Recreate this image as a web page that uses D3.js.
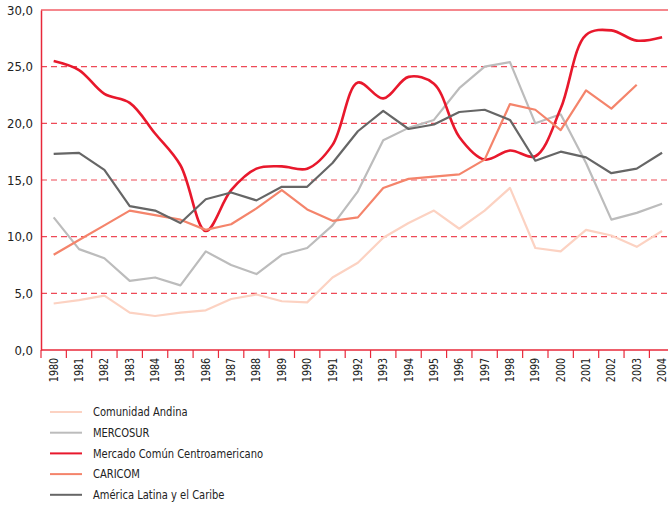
<!DOCTYPE html>
<html>
<head>
<meta charset="utf-8">
<script src="https://cdn.jsdelivr.net/npm/d3@7"></script>
<style>
  body { margin: 0; background: #fff; }
  text { font-family: "DejaVu Sans Condensed", "Liberation Sans", sans-serif; fill: #222; }
</style>
</head>
<body>
<div id="graph"></div>
<script>
const years = d3.range(1980, 2005).map(String);
const yTicks = [0, 5, 10, 15, 20, 25, 30];

const comunidadAndina = [4.1, 4.4, 4.8, 3.3, 3.0, 3.3, 3.5, 4.5, 4.9, 4.3, 4.2, 6.4, 7.7, 9.9, 11.2, 12.3, 10.7, 12.3, 14.3, 9.0, 8.7, 10.6, 10.1, 9.1, 10.5];
const mercosur = [11.7, 8.9, 8.1, 6.1, 6.4, 5.7, 8.7, 7.5, 6.7, 8.4, 9.0, 11.0, 14.0, 18.5, 19.6, 20.3, 23.1, 25.0, 25.4, 20.0, 20.8, 16.5, 11.5, 12.1, 12.9];
const mcca = [25.5, 24.7, 22.6, 21.8, 19.1, 16.3, 10.5, 14.1, 16.0, 16.2, 16.0, 18.1, 23.6, 22.2, 24.1, 23.5, 18.8, 16.8, 17.6, 17.1, 21.3, 27.8, 28.2, 27.3, 27.6];
const caricom = [8.4, 9.7, 11.0, 12.3, 11.9, 11.5, 10.6, 11.1, 12.5, 14.1, 12.4, 11.4, 11.7, 14.3, 15.1, 15.3, 15.5, 16.8, 21.7, 21.2, 19.4, 22.9, 21.3, 23.4, null];
const americaLatina = [17.3, 17.4, 15.9, 12.7, 12.3, 11.2, 13.3, 13.9, 13.2, 14.4, 14.4, 16.5, 19.3, 21.1, 19.5, 19.9, 21.0, 21.2, 20.3, 16.7, 17.5, 17.0, 15.6, 16.0, 17.4];

const series = [
  { name: "Comunidad Andina", values: comunidadAndina, color: "#fcd2c2", width: 2.2, smooth: false },
  { name: "MERCOSUR", values: mercosur, color: "#bcbcbc", width: 2.2, smooth: false },
  { name: "Mercado Común Centroamericano", values: mcca, color: "#e8182c", width: 2.6, smooth: true },
  { name: "CARICOM", values: caricom, color: "#f4846b", width: 2.2, smooth: false },
  { name: "América Latina y el Caribe", values: americaLatina, color: "#666666", width: 2.2, smooth: false }
];

const svgWidth = 668, svgHeight = 508;
const margin = { top: 10, left: 41, bottom: 158 };
const plotRight = 41 + 25 * 25.35;
const height = svgHeight - margin.top - margin.bottom;

const svg = d3.select("#graph").append("svg")
  .attr("width", svgWidth)
  .attr("height", svgHeight);

const x = d3.scaleBand().domain(years).range([margin.left, plotRight]);
const y = d3.scaleLinear().domain([0, 30]).range([margin.top + height, margin.top]);

// grid
svg.append("g").selectAll("line")
  .data(yTicks.filter(d => d > 0))
  .enter().append("line")
  .attr("x1", margin.left).attr("x2", svgWidth)
  .attr("y1", d => y(d)).attr("y2", d => y(d))
  .attr("stroke", d => d === 30 ? "#f5878d" : "#ee4a57")
  .attr("stroke-width", d => d === 30 ? 2 : 1.2)
  .attr("stroke-dasharray", d => d === 30 ? null : "6,4");

// y axis
const yAxis = svg.append("g")
  .attr("transform", "translate(" + margin.left + ",0)")
  .call(d3.axisLeft(y).tickValues(yTicks).tickSize(0).tickPadding(8).tickFormat(d => d3.format(".1f")(d).replace(".", ",")));
yAxis.select(".domain").attr("stroke", "#e8283a").attr("stroke-width", 1.5);
yAxis.selectAll("text").style("font-size", "13px");

// x axis
const xAxis = svg.append("g")
  .attr("transform", "translate(0," + y(0) + ")");
xAxis.append("line")
  .attr("x1", margin.left).attr("x2", svgWidth)
  .attr("stroke", "#e8283a").attr("stroke-width", 1.5);
xAxis.selectAll(".tk")
  .data(years)
  .enter().append("line")
  .attr("x1", d => x(d)).attr("x2", d => x(d))
  .attr("y1", 0).attr("y2", 8)
  .attr("stroke", "#e8283a").attr("stroke-width", 1.2);
xAxis.selectAll(".lbl")
  .data(years)
  .enter().append("text")
  .attr("transform", d => "translate(" + (x(d) + x.bandwidth() / 2 + 4) + ",8) rotate(-90) scale(0.88,1)")
  .attr("text-anchor", "end")
  .style("font-size", "12px")
  .text(d => d);

// lines
series.forEach(s => {
  const line = d3.line()
    .defined(d => d != null)
    .x((d, i) => x(years[i]) + x.bandwidth() / 2)
    .y(d => y(d))
    .curve(s.smooth ? d3.curveCatmullRom.alpha(0.5) : d3.curveLinear);
  svg.append("path")
    .datum(s.values)
    .attr("fill", "none")
    .attr("stroke", s.color)
    .attr("stroke-width", s.width)
    .attr("stroke-linejoin", "round")
    .attr("d", line);
});

// legend
const legend = svg.append("g").attr("transform", "translate(50,412)");
series.forEach((s, i) => {
  const g = legend.append("g").attr("transform", "translate(0," + i * 20.7 + ")");
  g.append("line").attr("x1", 0).attr("x2", 32).attr("stroke", s.color).attr("stroke-width", 2);
  g.append("text")
    .attr("transform", "translate(43,0) scale(0.885,1)")
    .attr("dy", "0.35em")
    .style("font-size", "12.5px")
    .text(s.name);
});
</script>
</body>
</html>
